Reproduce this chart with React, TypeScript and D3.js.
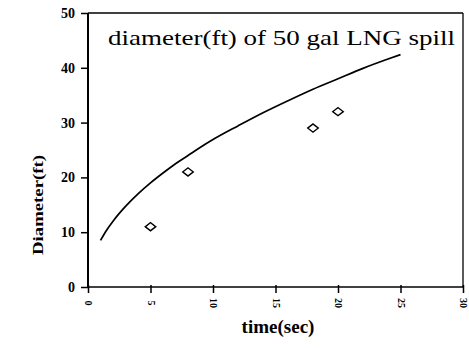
import { useRef, useEffect } from "react";
import * as d3 from "d3";

// curve: diameter (ft) vs time (sec)
const curveT = [1, 1.5, 2, 3, 4, 5, 6, 7, 8, 9, 10, 12, 14, 16, 18, 20, 22, 24, 25];
const curveD = [8.5, 10.4, 12.0, 14.7, 17.0, 19.0, 20.8, 22.5, 24.0, 25.5, 26.9, 29.4, 31.8, 34.0, 36.1, 38.0, 39.9, 41.6, 42.4];

// measured points (diamonds)
const obsT = [5, 8, 18, 20];
const obsD = [11, 21, 29, 32];

const xTicks = [0, 5, 10, 15, 20, 25, 30];
const yTicks = [0, 10, 20, 30, 40, 50];

const title = "diameter(ft) of 50 gal LNG spill";

export default function App() {
  const svgRef = useRef<SVGSVGElement>(null);

  useEffect(() => {
    if (!svgRef.current) return;
    const svg = d3.select(svgRef.current);
    svg.selectAll("*").remove();
    const w = 469, h = 348;
    const left = 88, right = 463, top = 13, bottom = 287;
    const x = d3.scaleLinear().domain([0, 30]).range([left, right]);
    const y = d3.scaleLinear().domain([0, 50]).range([bottom, top]);
    const serif = "Liberation Serif, Times New Roman, DejaVu Serif, serif";

    svg.append("rect").attr("width", w).attr("height", h).attr("fill", "#fff");

    // frame
    svg.append("line").attr("x1", left).attr("x2", right).attr("y1", top).attr("y2", top)
      .attr("stroke", "#000").attr("stroke-width", 1.3);
    svg.append("line").attr("x1", right).attr("x2", right).attr("y1", top).attr("y2", bottom)
      .attr("stroke", "#000").attr("stroke-width", 1.3);

    // y axis
    const ya = svg.append("g").attr("transform", `translate(${left},0)`)
      .call(d3.axisLeft(y).tickValues(yTicks).tickSize(7).tickPadding(6).tickFormat(d3.format("d")));
    ya.select(".domain").attr("stroke-width", 2).attr("d", `M0,${top}V${bottom}`);
    ya.selectAll(".tick line").attr("stroke-width", 1.5);
    ya.selectAll(".tick text").style("font-family", serif).attr("font-size", 14)
      .attr("font-weight", "bold").attr("fill", "#000");

    // x axis
    const xa = svg.append("g").attr("transform", `translate(0,${bottom})`)
      .call(d3.axisBottom(x).tickValues(xTicks).tickSize(6).tickFormat(d3.format("d")));
    xa.select(".domain").attr("stroke-width", 1.5).attr("d", `M${left},0H${right}`);
    xa.selectAll(".tick line").attr("stroke-width", 1.5).attr("y1", -2);
    xa.selectAll(".tick text").style("font-family", serif).attr("font-size", 10)
      .attr("font-weight", "bold").attr("fill", "#000")
      .attr("transform", "translate(0,16) rotate(90)").attr("x", 0).attr("y", 0)
      .attr("dy", "0.32em").attr("text-anchor", "middle");

    // curve
    const pts = curveT.map((t, i) => [t, curveD[i]] as [number, number]);
    const line = d3.line<[number, number]>().x(d => x(d[0])).y(d => y(d[1])).curve(d3.curveMonotoneX);
    svg.append("path").datum(pts).attr("fill", "none").attr("stroke", "#000")
      .attr("stroke-width", 1.7).attr("d", line);

    // diamonds
    const sym = d3.symbol().type(d3.symbolDiamond2).size(58);
    svg.append("g").selectAll("path").data(obsT).join("path")
      .attr("transform", (t, i) => `translate(${x(t)},${y(obsD[i])}) scale(1.1,0.85)`)
      .attr("d", sym()!).attr("fill", "#fff").attr("stroke", "#000").attr("stroke-width", 1.5);

    // title
    svg.append("text").attr("x", 108).attr("y", 45).style("font-family", serif)
      .attr("font-size", 22).attr("textLength", 347).attr("lengthAdjust", "spacingAndGlyphs")
      .attr("fill", "#000").text(title);

    // axis labels
    svg.append("text").attr("x", 278).attr("y", 333).attr("text-anchor", "middle")
      .style("font-family", serif).attr("font-size", 19).attr("font-weight", "bold")
      .attr("fill", "#000").text("time(sec)");
    svg.append("text").attr("transform", "translate(43,205) rotate(-90)").attr("text-anchor", "middle")
      .style("font-family", serif).attr("font-size", 15).attr("font-weight", "bold")
      .attr("textLength", 100).attr("lengthAdjust", "spacingAndGlyphs")
      .attr("fill", "#000").text("Diameter(ft)");
  }, []);

  return <svg ref={svgRef} width={469} height={348} style={{ position: "absolute", left: 0, top: 0 }} />;
}
